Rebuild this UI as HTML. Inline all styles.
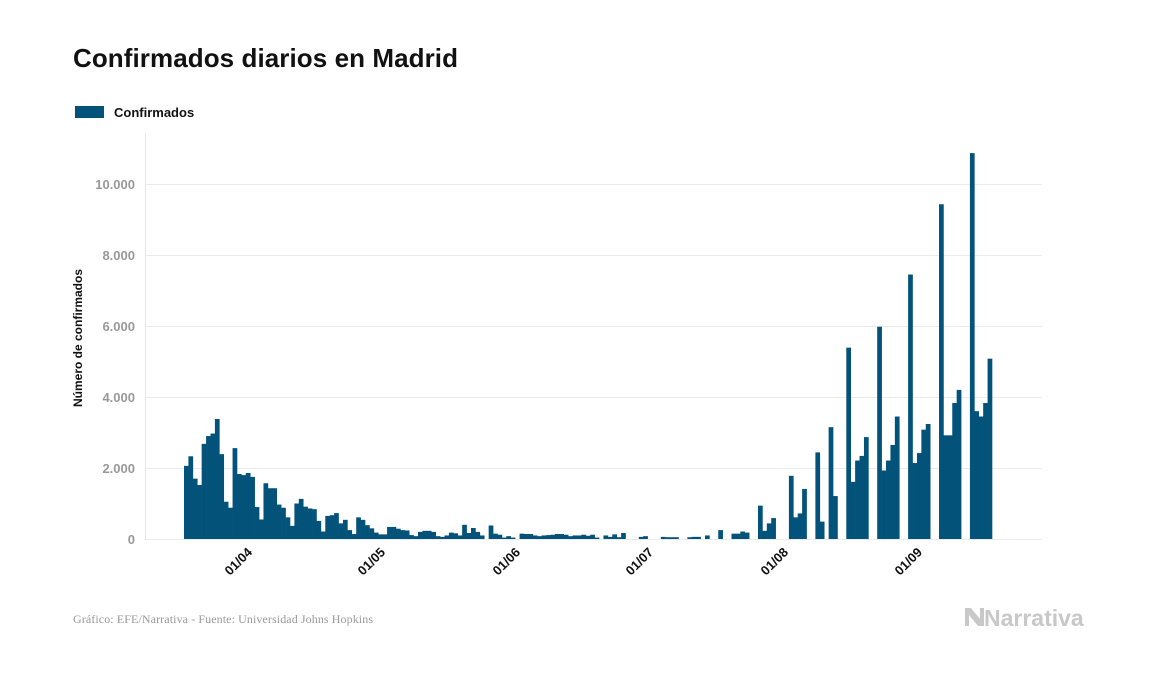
<!DOCTYPE html>
<html><head><meta charset="utf-8"><style>
html,body{margin:0;padding:0;background:#fff;}
body{width:1157px;height:674px;overflow:hidden;font-family:"Liberation Sans",sans-serif;}
</style></head><body>
<svg id="s" width="1157" height="674" xmlns="http://www.w3.org/2000/svg" font-family="Liberation Sans, sans-serif">
<text x="73" y="67" font-size="26" font-weight="bold" fill="#111" textLength="385">Confirmados diarios en Madrid</text>
<rect x="75" y="106" width="29" height="12" fill="#02527a"/>
<text x="114" y="117" font-size="13" font-weight="bold" fill="#111">Confirmados</text>
<line x1="145.5" y1="133" x2="145.5" y2="539" stroke="#e6e6e6"/>
<g stroke="#ebebeb" stroke-width="1">
<line x1="145" y1="184.5" x2="1042" y2="184.5"/>
<line x1="145" y1="255.5" x2="1042" y2="255.5"/>
<line x1="145" y1="326.5" x2="1042" y2="326.5"/>
<line x1="145" y1="397.5" x2="1042" y2="397.5"/>
<line x1="145" y1="468.5" x2="1042" y2="468.5"/>
<line x1="145" y1="539.5" x2="1042" y2="539.5"/>
</g>
<g font-size="13" font-weight="bold" fill="#999" text-anchor="end">
<text x="135" y="189">10.000</text>
<text x="135" y="260">8.000</text>
<text x="135" y="331">6.000</text>
<text x="135" y="402">4.000</text>
<text x="135" y="473">2.000</text>
<text x="135" y="544">0</text>
</g>
<text transform="translate(82,338) rotate(-90)" font-size="12" font-weight="bold" fill="#111" text-anchor="middle">Número de confirmados</text>
<g id="bars" fill="#02527a"></g>
<g font-size="13" font-weight="bold" fill="#111" text-anchor="end">
<text transform="translate(253,553) rotate(-45)">01/04</text>
<text transform="translate(386,553) rotate(-45)">01/05</text>
<text transform="translate(521,553) rotate(-45)">01/06</text>
<text transform="translate(654,553) rotate(-45)">01/07</text>
<text transform="translate(789,553) rotate(-45)">01/08</text>
<text transform="translate(923,553) rotate(-45)">01/09</text>
</g>
<text x="73" y="623" font-size="12" fill="#999" font-family="Liberation Serif, serif" textLength="300">Gráfico: EFE/Narrativa - Fuente: Universidad Johns Hopkins</text>
<path d="M965 608 L971 608 L980 619 L980 608 L984 608 L984 626 L978 626 L969 615 L969 626 L965 626 Z" fill="#c8c8c8"/>
<text x="984" y="626" font-size="23" font-weight="bold" fill="#c8c8c8">Narrativa</text>
</svg>
<script>
var early=[2060,2330,1700,1520,2680,2900,2970,3380,2390,1050,880,2560,1830,1800,1860,1750,900,550,1570,1430,1430,970,880,610,370,1000,1130,910,860,840,510,210,650,670,730,440,540,250,140,610,540,390,300,180,130,130,340,340,290,250,240,110,80,200,230,230,200];
var mid=[80,60,100,180,160,100,400,170,310,200,100,0,380,150,120,40,80,40,0,150,140,140,100,80,100,110,120,140,140,120,80,100,100,120,90,120,40,0,100,60,130,50,170,0,0,0,60,80,0,0,0,60,50,50,50,0,0,50,60,60,0,100,0,0,250,0,0,150,150,210,180,0,0];
var late=[940,230,440,590,0,0,0,1780,610,720,1410,0,0,2440,490,0,3150,1210,0,0,5390,1610,2210,2340,2870,0,0,5980,1930,2210,2650,3450,0,0,7450,2140,2420,3080,3240,0,0,9430,2920,2920,3830,4200,0,0,10870,3600,3450,3830,5080];
var d=early.concat(mid,late);
var x0=184,x1=992,w=(x1-x0)/d.length,g=document.getElementById('bars'),h='';
for(var i=0;i<d.length;i++){var hh=d[i]*0.0355;if(hh<=0)continue;
h+='<rect x="'+(x0+i*w).toFixed(2)+'" y="'+(539-hh).toFixed(2)+'" width="'+(w+0.3).toFixed(2)+'" height="'+hh.toFixed(2)+'"/>';}
g.innerHTML=h;
</script>
</body></html>
